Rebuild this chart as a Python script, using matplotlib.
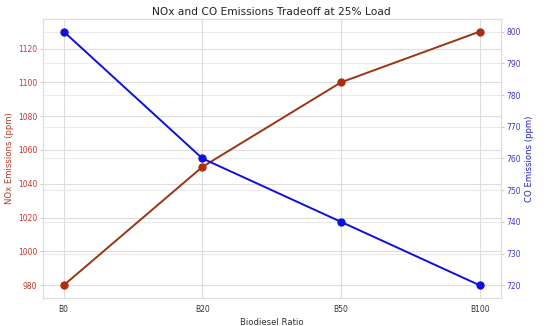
import matplotlib
matplotlib.use("Agg")
import matplotlib.pyplot as plt
import matplotlib.transforms as mtransforms
import seaborn as sns

sns.set_style("whitegrid")

ratios = ["B0", "B20", "B50", "B100"]
nox = [980, 1050, 1100, 1130]
co = [800, 760, 740, 720]

nox_col = "#9b3412"
co_col = "#1010dc"

fig, ax1 = plt.subplots(figsize=(5.5, 3.26), dpi=100)
ax2 = ax1.twinx()

ax1.plot(ratios, nox, color=nox_col, marker="o", markersize=5, lw=1.4,
         markerfacecolor="#a8300f", markeredgecolor="#a8300f", zorder=3)
ax1.set_xlabel("Biodiesel Ratio", fontsize=6.1, color="#333333", labelpad=3)
ax1.set_ylabel("NOx Emissions (ppm)", fontsize=6.1, color="#b83a1e", labelpad=3)
ax1.tick_params(axis="y", labelcolor="#c0392b", labelsize=5.5, length=2, pad=2, color="#cccccc")
ax1.tick_params(axis="x", labelsize=5.5, length=2, pad=3, labelcolor="#333333", color="#cccccc")
ax1.grid(True, color="#dddddd", lw=0.8)

ax2.plot(ratios, co, color=co_col, marker="o", markersize=5, lw=1.4)
ax2.set_ylabel("CO Emissions (ppm)", fontsize=6.1, color="#2020c0", labelpad=3)
ax2.tick_params(axis="y", labelcolor="#3a3ad0", labelsize=5.5, length=2, pad=2, color="#cccccc")
ax2.grid(False)
ax2.set_ylim(716, 804)
ax1.set_ylim(972.5, 1137.5)

# CO gridlines drawn under the NOx line
blend = mtransforms.blended_transform_factory(ax1.transAxes, ax2.transData)
for v in ax2.get_yticks():
    if 716 <= v <= 804:
        ax1.plot([0, 1], [v, v], transform=blend, color="#ebebeb", lw=0.8, zorder=0.5)

for a in (ax1, ax2):
    for s in a.spines.values():
        s.set_color("#dddddd")

ax1.set_title("NOx and CO Emissions Tradeoff at 25% Load", fontsize=7.7, color="#222222", pad=3)
fig.subplots_adjust(left=0.078, right=0.91, top=0.942, bottom=0.086)
fig.savefig("out.png", dpi=100)
